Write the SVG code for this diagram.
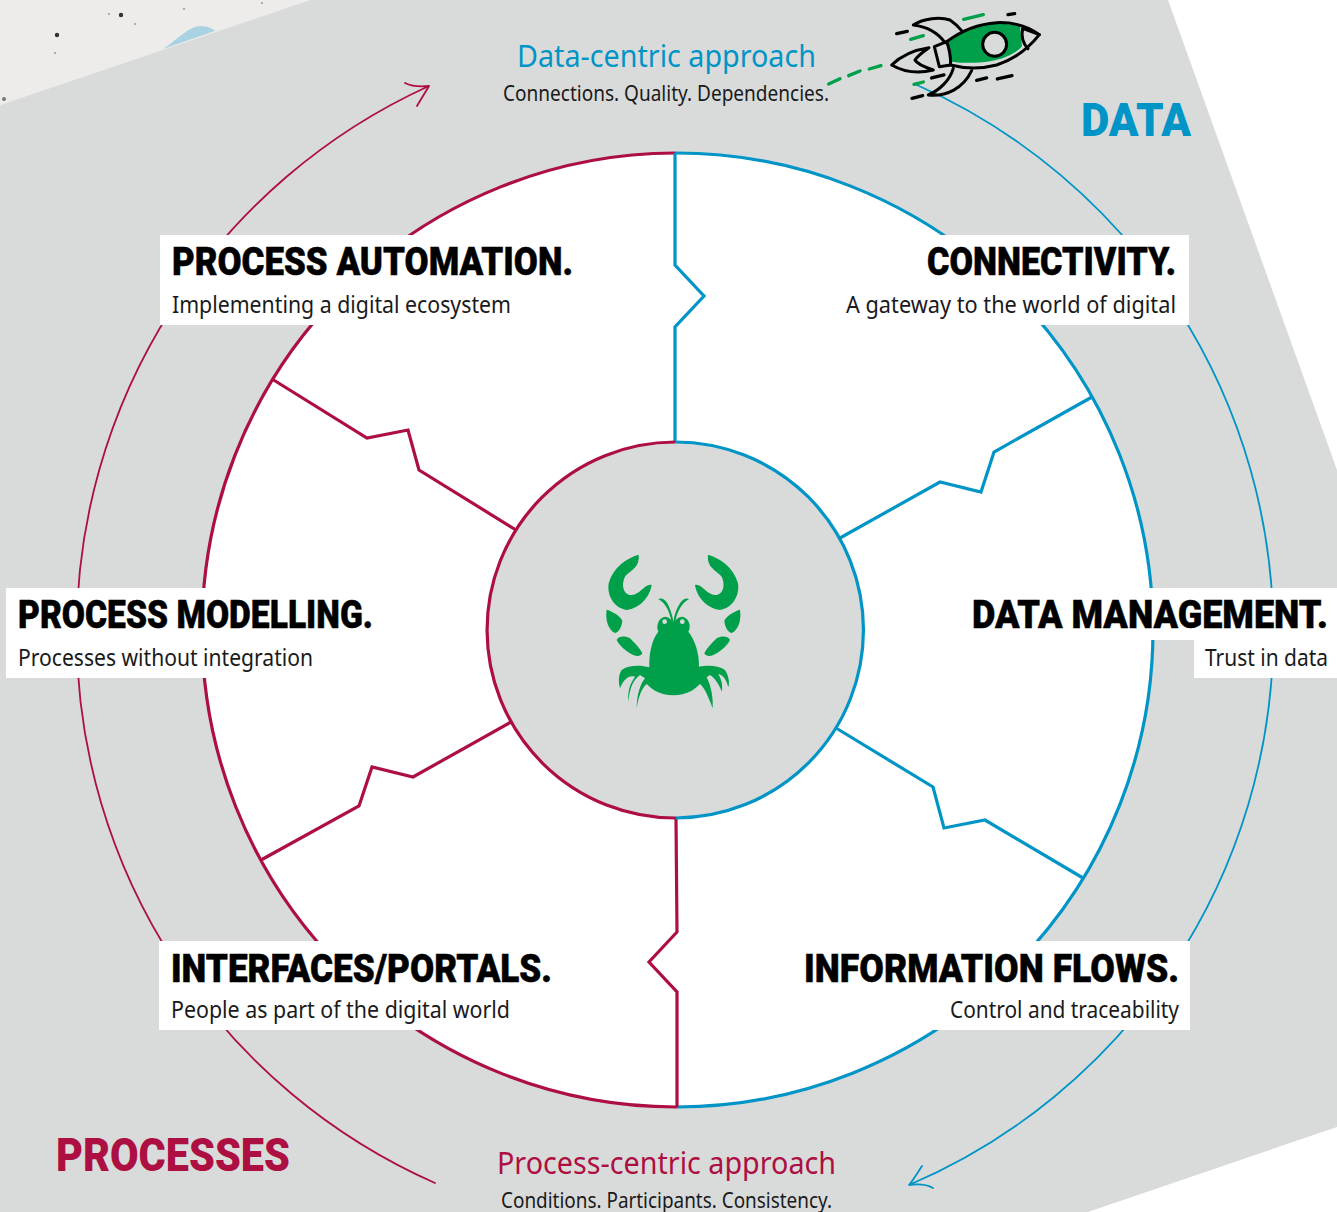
<svg xmlns="http://www.w3.org/2000/svg" width="1337" height="1212" viewBox="0 0 1337 1212">
<style>
.h{font-family:Roboto,"Liberation Sans",sans-serif;font-weight:900;font-size:38px;fill:#000;stroke:#000;stroke-width:.5}
.s{font-family:"Noto Sans","Liberation Sans",sans-serif;font-size:23px;fill:#1a1a1a}
.a{font-family:"Noto Sans","Liberation Sans",sans-serif;font-size:31px}
.n{font-family:"Noto Sans","Liberation Sans",sans-serif;font-size:21px;fill:#1a1a1a}
.big{font-family:Roboto,"Liberation Sans",sans-serif;font-weight:900;font-size:46px}
.blue{stroke:#0095c6;fill:none}
.red{stroke:#ad0f42;fill:none}
.w{stroke-width:3.2;stroke-linejoin:miter}
.thin{stroke-width:1.8;stroke-linecap:round;stroke-linejoin:round}
.box{fill:#fff}
.rk{fill:none;stroke:#000;stroke-width:9;stroke-linecap:round;stroke-linejoin:round}
.dash{fill:none;stroke-width:10;stroke-linecap:round}
</style>
<g id="background">
<rect width="1337" height="1212" fill="#fff"/>
<polygon points="0,0 310,0 0,105" fill="#edecea"/>
<polygon points="310,0 1168,0 1337,470 1337,1127 1088,1212 0,1212 0,105" fill="#d9dbda"/>
<path d="M163,49C178,39 188,27 200,26C208,26 213,29 215,31Z" fill="#a9d3e2"/>
<g fill="#333"><circle cx="121" cy="15" r="2.2"/><circle cx="57" cy="35" r="2.2"/><circle cx="4" cy="99" r="2" fill="#777"/></g>
<g fill="#999"><circle cx="109" cy="14" r="1"/><circle cx="135" cy="24" r="1"/><circle cx="184" cy="9" r="1"/><circle cx="55" cy="53" r="1"/><circle cx="262" cy="3" r="1"/></g>
</g>
<g id="connectors">
<path class="red thin" d="M435,1183A601,601 0 0 1 429,86M405,83C413,87 420,87 429,86C425,93 421,99 417,106"/>
<path class="blue thin" d="M917,85A600,600 0 0 1 909,1185M922,1166C918,1172 914,1179 909,1185C917,1184 926,1184 933,1188"/>
</g>
<g id="wheel">
<ellipse cx="677" cy="630" rx="476" ry="477" fill="#fff"/>
<path class="blue w" d="M675,153A477,477 0 0 1 677,1107"/>
<path class="red w" d="M677,1107A474,477 0 0 1 675,153"/>
<path class="blue w" d="M675,153V265L704,296L675,327V442"/>
<path class="blue w" d="M1092,397L994,452L981,492L940,482L840,538"/>
<path class="blue w" d="M836,728L933,787L944,828L985,820L1083,878"/>
<path class="red w" d="M676,818L677,932L649,962L677,992V1107"/>
<path class="red w" d="M511,722L413,777L372,767L359,806L261,860"/>
<path class="red w" d="M272,379L367,438L408,430L419,470L516,530"/>
</g>
<g id="hub">
<circle cx="675" cy="630" r="188" fill="#d9dbda"/>
<path class="blue w" d="M675,442A188,188 0 0 1 676,818"/>
<path class="red w" d="M676,818A188.500,188 0 0 1 675,442"/>
<g id="crab" fill="#00a04a" transform="translate(590,540) scale(.3333)">
<g id="crabhalf">
<path d="M146,44C110,55 70,80 56,130C50,170 75,205 110,210C150,205 180,170 185,135C165,130 150,165 125,165C100,165 93,135 105,110C120,90 150,85 146,44Z"/>
<path d="M50,209C70,215 90,228 97,242C95,260 88,275 75,279C55,270 45,240 50,209Z"/>
<path d="M80,300C85,288 105,287 120,295C135,310 150,325 157,340C152,350 140,350 130,345C110,335 90,320 80,300Z"/>
</g>
<use href="#crabhalf" transform="matrix(-1 0 0 1 500 0)"/>
<path d="M205,275C197,260 205,232 225,230C240,232 243,240 250,250C257,240 262,232 277,230C297,232 305,260 295,275C315,300 328,340 327,380C350,375 385,375 405,390C415,405 420,425 415,442C410,420 400,405 385,402C395,420 398,435 396,455C385,430 375,415 360,405L350,412C365,440 370,480 368,505C355,470 345,445 330,432C320,440 315,447 305,452C270,470 230,470 195,452C185,447 180,440 170,432C155,445 145,470 140,505C140,480 145,440 165,415L150,405C130,420 120,440 115,485C112,445 125,425 135,410C115,405 100,420 90,445C85,425 85,405 95,390C115,375 150,375 178,382C177,340 185,300 205,275Z"/>
<path d="M245,255C243,225 230,190 205,178C212,172 225,178 232,190C240,205 247,225 250,245C253,225 260,205 270,190C278,178 290,172 297,178C272,190 257,225 255,255Z"/>
<circle cx="224" cy="245" r="7" fill="#d9dbda"/><circle cx="277" cy="245" r="7" fill="#d9dbda"/>
</g>
</g>
<g id="process-automation"><rect class="box" x="160" y="235" width="425" height="90"/><text class="h" x="172" y="275" textLength="401" lengthAdjust="spacingAndGlyphs">PROCESS AUTOMATION.</text><text class="s" x="172" y="313" textLength="339" lengthAdjust="spacingAndGlyphs">Implementing a digital ecosystem</text></g>
<g id="connectivity"><rect class="box" x="835" y="235" width="354" height="90"/><text class="h" x="927" y="275" textLength="249" lengthAdjust="spacingAndGlyphs">CONNECTIVITY.</text><text class="s" x="846" y="313" textLength="330" lengthAdjust="spacingAndGlyphs">A gateway to the world of digital</text></g>
<g id="data-management"><rect class="box" x="960" y="588" width="377" height="52"/><rect class="box" x="1194" y="638" width="143" height="40"/><text class="h" transform="translate(972,628) scale(.9,1)" textLength="395.500" lengthAdjust="spacingAndGlyphs">DATA MANAGEMENT.</text><text class="s" transform="translate(1205,666) scale(.92,1)" textLength="133.700" lengthAdjust="spacingAndGlyphs">Trust in data</text></g>
<g id="process-modelling"><rect class="box" x="6" y="588" width="379" height="90"/><text class="h" x="18" y="628" textLength="355" lengthAdjust="spacingAndGlyphs">PROCESS MODELLING.</text><text class="s" x="18" y="666" textLength="295" lengthAdjust="spacingAndGlyphs">Processes without integration</text></g>
<g id="interfaces-portals"><rect class="box" x="159" y="941" width="405" height="89"/><text class="h" x="171" y="982" textLength="381" lengthAdjust="spacingAndGlyphs">INTERFACES/PORTALS.</text><text class="s" x="171" y="1018" textLength="339" lengthAdjust="spacingAndGlyphs">People as part of the digital world</text></g>
<g id="information-flows"><rect class="box" x="793" y="941" width="397" height="89"/><text class="h" x="804" y="982" textLength="375" lengthAdjust="spacingAndGlyphs">INFORMATION FLOWS.</text><text class="s" x="950" y="1018" textLength="229" lengthAdjust="spacingAndGlyphs">Control and traceability</text></g>
<g id="data-centric"><text class="a" x="517" y="67" fill="#0095c6" textLength="299" lengthAdjust="spacingAndGlyphs">Data-centric approach</text><text class="n" x="503" y="101" textLength="326" lengthAdjust="spacingAndGlyphs">Connections. Quality. Dependencies.</text></g>
<g id="process-centric"><text class="a" x="497" y="1174" fill="#ad0f42" textLength="339" lengthAdjust="spacingAndGlyphs">Process-centric approach</text><text class="n" x="501" y="1208" textLength="331" lengthAdjust="spacingAndGlyphs">Conditions. Participants. Consistency.</text></g>
<g id="data-label"><text class="big" x="1081" y="136" fill="#0095c6" textLength="110" lengthAdjust="spacingAndGlyphs">DATA</text></g>
<g id="processes-label"><text class="big" x="56" y="1171" fill="#ad0f42" textLength="234" lengthAdjust="spacingAndGlyphs">PROCESSES</text></g>
<g id="rocket" transform="translate(820,0) scale(.3333)">
<path d="M380,125C420,95 470,72 530,68L600,78L606,138C590,160 550,178 510,184C470,190 430,190 395,185Z" fill="#00a04a" stroke="none"/>
<path class="rk" d="M380,125C420,95 470,72 530,68C580,66 625,80 658,104C630,140 590,175 530,195C480,208 430,205 392,195"/>
<path class="rk" d="M658,104L608,85C603,110 608,130 624,146"/>
<path class="rk" d="M343,140L380,125C388,145 392,170 392,195L358,200Z"/>
<circle class="rk" cx="524" cy="133" r="36" style="fill:#d9dbda"/>
<path class="rk" d="M280,75C310,55 360,50 390,60C405,70 415,80 425,92M280,75C320,80 355,100 375,128"/>
<path class="rk" d="M400,205C390,240 360,270 325,285C380,290 430,265 455,212"/>
<path class="rk" d="M327,143C280,150 240,170 215,195C250,215 295,222 340,210C310,200 290,190 285,180C295,165 310,155 327,143Z"/>
<g class="dash" stroke="#000"><path d="M230,101L262,94"/><path d="M564,44L584,41"/><path d="M335,234L372,225"/><path d="M470,241L500,234"/><path d="M532,237L576,227"/><path d="M276,295L308,287"/></g>
<g class="dash" stroke="#00a04a"><path d="M272,118L310,107"/><path d="M431,58L490,44"/><path d="M282,253L310,246"/><path d="M26,252L60,236"/><path d="M86,227L120,213"/><path d="M148,207L183,197"/></g>
</g>
</svg>
